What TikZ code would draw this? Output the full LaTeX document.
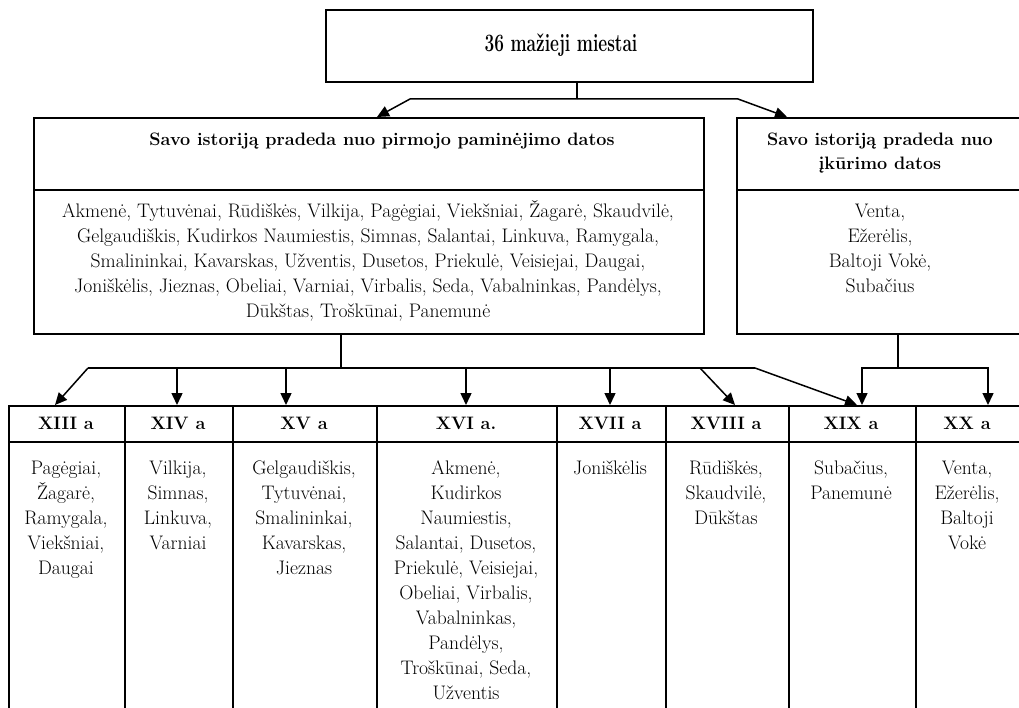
\documentclass[tikz,border=0pt]{standalone}
\usepackage{fontspec}
\usepackage{graphicx}
\usetikzlibrary{arrows.meta}
\newcommand\firstl{\rule{0pt}{18pt}}
\begin{document}
\begin{tikzpicture}[x=1pt, y=-1pt,
 box/.style={draw, line width=1.6pt, inner sep=0pt, anchor=north west},
 txt/.style={inner sep=0pt, align=center, font=\fontsize{19.6}{25}\selectfont},
 hdr/.style={inner sep=0pt, align=center, font=\fontsize{18}{24}\selectfont\bfseries},
 conn/.style={line width=1.5pt},
 arr/.style={conn, -{Triangle[length=12pt,width=11pt]}}]
\useasboundingbox (0,0) rectangle (1019,708);
% top
\node[box, minimum width=487pt, minimum height=72pt] (top) at (325,9) {};
\node[inner sep=0pt, anchor=base, font=\fontsize{25}{27}\selectfont\bfseries] (title) at (561,52) {\scalebox{0.69}[1]{36 mažieji miestai}};
% left box
\node[box, minimum width=670pt, minimum height=72pt] (lh) at (33,117) {};
\node[hdr, anchor=base] (lht) at (382,146) {Savo istoriją pradeda nuo pirmojo paminėjimo datos};
\node[box, minimum width=670pt, minimum height=144pt] (lb) at (33,189) {};
\node[txt, anchor=north] (lbt) at (368,199) {\firstl Akmenė, Tytuvėnai, Rūdiškės, Vilkija, Pagėgiai, Viekšniai, Žagarė, Skaudvilė,\\
Gelgaudiškis, Kudirkos Naumiestis, Simnas, Salantai, Linkuva, Ramygala,\\
Smalininkai, Kavarskas, Užventis, Dusetos, Priekulė, Veisiejai, Daugai,\\
Joniškėlis, Jieznas, Obeliai, Varniai, Virbalis, Seda, Vabalninkas, Pandėlys,\\
Dūkštas, Troškūnai, Panemunė};
% right box
\node[box, minimum width=289pt, minimum height=72pt] (rh) at (736,117) {};
\node[hdr, anchor=north] (rht) at (880,127) {\firstl Savo istoriją pradeda nuo\\įkūrimo datos};
\node[box, minimum width=289pt, minimum height=144pt] (rb) at (736,189) {};
\node[txt, anchor=north] (rbt) at (880,199) {\firstl Venta,\\Ežerėlis,\\Baltoji Vokė,\\Subačius};
% bottom cells
\node[box, minimum width=116pt, minimum height=36pt] (h13) at (8,405) {};
\node[box, minimum width=116pt, minimum height=274pt] (c13) at (8,441) {};
\node[box, minimum width=108pt, minimum height=36pt] (h14) at (124,405) {};
\node[box, minimum width=108pt, minimum height=274pt] (c14) at (124,441) {};
\node[box, minimum width=144pt, minimum height=36pt] (h15) at (232,405) {};
\node[box, minimum width=144pt, minimum height=274pt] (c15) at (232,441) {};
\node[box, minimum width=180pt, minimum height=36pt] (h16) at (376,405) {};
\node[box, minimum width=180pt, minimum height=274pt] (c16) at (376,441) {};
\node[box, minimum width=109pt, minimum height=36pt] (h17) at (556,405) {};
\node[box, minimum width=109pt, minimum height=274pt] (c17) at (556,441) {};
\node[box, minimum width=123pt, minimum height=36pt] (h18) at (665,405) {};
\node[box, minimum width=123pt, minimum height=274pt] (c18) at (665,441) {};
\node[box, minimum width=127pt, minimum height=36pt] (h19) at (788,405) {};
\node[box, minimum width=127pt, minimum height=274pt] (c19) at (788,441) {};
\node[box, minimum width=110pt, minimum height=36pt] (h20) at (915,405) {};
\node[box, minimum width=110pt, minimum height=274pt] (c20) at (915,441) {};
% header texts
\node[hdr, anchor=base] (h13t) at (66,429) {XIII a};
\node[hdr, anchor=base] (h14t) at (178,429) {XIV a};
\node[hdr, anchor=base] (h15t) at (304,429) {XV a};
\node[hdr, anchor=base] (h16t) at (466,429) {XVI a.};
\node[hdr, anchor=base] (h17t) at (610,429) {XVII a};
\node[hdr, anchor=base] (h18t) at (726,429) {XVIII a};
\node[hdr, anchor=base] (h19t) at (851,429) {XIX a};
\node[hdr, anchor=base] (h20t) at (967,429) {XX a};
% body texts
\node[txt, anchor=north] (c13t) at (66,456) {\firstl Pagėgiai,\\Žagarė,\\Ramygala,\\Viekšniai,\\Daugai};
\node[txt, anchor=north] (c14t) at (178,456) {\firstl Vilkija,\\Simnas,\\Linkuva,\\Varniai};
\node[txt, anchor=north] (c15t) at (304,456) {\firstl Gelgaudiškis,\\Tytuvėnai,\\Smalininkai,\\Kavarskas,\\Jieznas};
\node[txt, anchor=north] (c16t) at (466,456) {\firstl Akmenė,\\Kudirkos\\Naumiestis,\\Salantai, Dusetos,\\Priekulė, Veisiejai,\\Obeliai, Virbalis,\\Vabalninkas,\\Pandėlys,\\Troškūnai, Seda,\\Užventis};
\node[txt, anchor=north] (c17t) at (610,456) {\firstl Joniškėlis};
\node[txt, anchor=north] (c18t) at (726,456) {\firstl Rūdiškės,\\Skaudvilė,\\Dūkštas};
\node[txt, anchor=north] (c19t) at (851,456) {\firstl Subačius,\\Panemunė};
\node[txt, anchor=north] (c20t) at (967,456) {\firstl Venta,\\Ežerėlis,\\Baltoji\\Vokė};
% connectors top
\coordinate (j1) at (577,99);
\coordinate (jl) at (410,99);
\coordinate (jr) at (738,99);
\coordinate (al) at (377,117);
\coordinate (ar) at (787,117);
\draw[conn] (top.south -| j1) -- (j1);
\draw[arr] (j1) -- (jl) -- (al);
\draw[arr] (j1) -- (jr) -- (ar);
% connectors left box to cells
\coordinate (k1) at (341,368);
\coordinate (kL) at (88,368);
\coordinate (kR) at (755,368);
\coordinate (t13) at (55,405);
\coordinate (k14) at (177,368);
\coordinate (k15) at (286,368);
\coordinate (k16) at (466,368);
\coordinate (k17) at (610,368);
\coordinate (k18) at (700,368);
\coordinate (t18) at (735,405);
\coordinate (t19) at (857,405);
\draw[conn] (lb.south -| k1) -- (k1);
\draw[conn] (kL) -- (kR);
\draw[arr] (kL) -- (t13);
\draw[arr] (k14) -- (k14 |- h14.north);
\draw[arr] (k15) -- (k15 |- h15.north);
\draw[arr] (k16) -- (k16 |- h16.north);
\draw[arr] (k17) -- (k17 |- h17.north);
\draw[arr] (k18) -- (t18);
\draw[arr] (kR) -- (t19);
% connectors right box to cells
\coordinate (m1) at (898,368);
\coordinate (mL) at (862,368);
\coordinate (mR) at (988,368);
\draw[conn] (rb.south -| m1) -- (m1);
\draw[arr] (m1) -- (mL) -- (mL |- h19.north);
\draw[arr] (m1) -- (mR) -- (mR |- h20.north);
\end{tikzpicture}
\end{document}
